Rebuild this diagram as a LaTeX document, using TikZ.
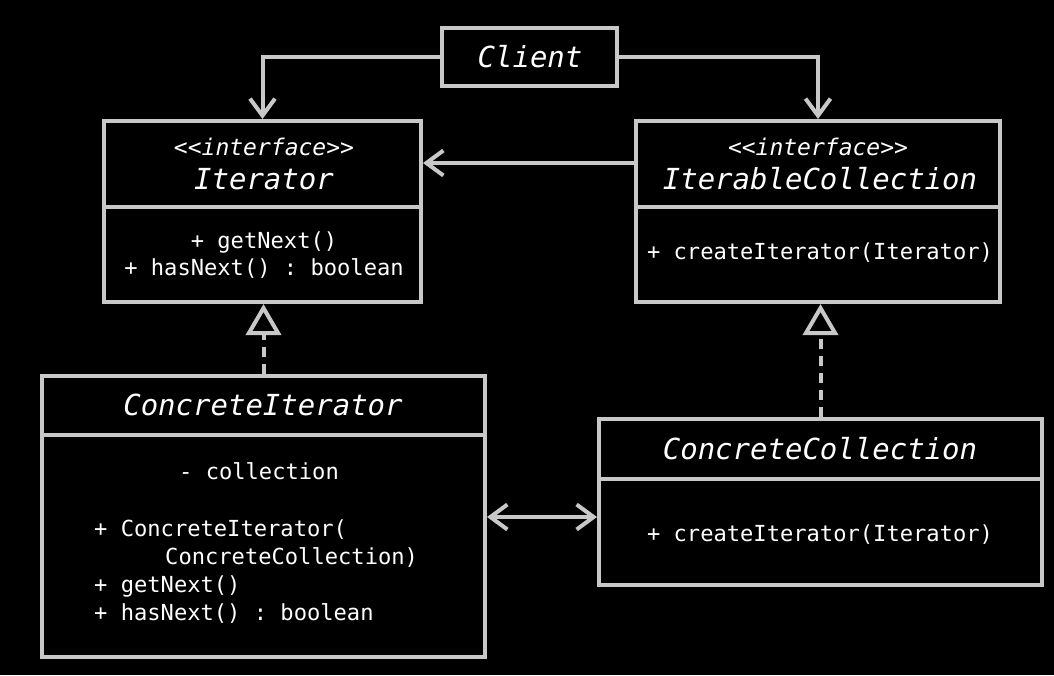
\documentclass[tikz,border=0pt]{standalone}
\usepackage{fontspec}
\setmonofont{DejaVu Sans Mono}
\usetikzlibrary{arrows.meta}
\definecolor{ln}{HTML}{C8C8C8}
\tikzset{barb/.tip={Straight Barb[length=17pt,width=25pt]}}
\begin{document}
\begin{tikzpicture}[x=1pt,y=-1pt,
  box/.style={draw=ln,line width=4pt,rectangle,inner sep=0pt,outer sep=2pt},
  divider/.style={draw=ln,line width=4pt},
  conn/.style={draw=ln,line width=4pt},
  realize/.style={conn,dash pattern=on 10pt off 7pt,-{Triangle[open,length=31pt,width=35pt]}},
  ttl/.style={text=white,font=\ttfamily\itshape\fontsize{29}{34}\selectfont,inner sep=0pt,anchor=base},
  ster/.style={text=white,font=\ttfamily\itshape\fontsize{23}{28}\selectfont,inner sep=0pt,anchor=base},
  mth/.style={text=white,font=\ttfamily\fontsize{22.1}{26}\selectfont,inner sep=0pt,anchor=base},
  mthl/.style={mth,anchor=base west}]
\useasboundingbox[fill=black] (0,0) rectangle (1054,675);

% boxes
\node[box,minimum width=175pt,minimum height=58pt] (cl) at (529.5,57) {};
\node[box,minimum width=317pt,minimum height=181pt] (it) at (262.5,211.5) {};
\node[box,minimum width=364pt,minimum height=181pt] (ic) at (818,211.5) {};
\node[box,minimum width=443pt,minimum height=281pt] (ci) at (263.5,516.5) {};
\node[box,minimum width=443pt,minimum height=166pt] (cc) at (820.5,502) {};

% dividers
\coordinate (d1) at (0,207);
\coordinate (d2) at (0,435);
\coordinate (d3) at (0,479);
\draw[divider] (it.west |- d1) -- (it.east |- d1);
\draw[divider] (ic.west |- d1) -- (ic.east |- d1);
\draw[divider] (ci.west |- d2) -- (ci.east |- d2);
\draw[divider] (cc.west |- d3) -- (cc.east |- d3);

% texts
\node[ttl] (tcl) at (530,67.5) {Client};
\node[ster] (sit) at (264,155) {<<interface>>};
\node[ttl] (tit) at (264,189.5) {Iterator};
\node[mth] (m1) at (264,248) {+ getNext()};
\node[mth] (m2) at (264,275) {+ hasNext() : boolean};
\node[ster] (sic) at (818,155) {<<interface>>};
\node[ttl] (tic) at (820,189.5) {IterableCollection};
\node[mth] (m3) at (820,259) {+ createIterator(Iterator)};
\node[ttl] (tci) at (263,415.5) {ConcreteIterator};
\node[mth] (m4) at (259,479) {- collection};
\node[mthl] (m5) at (94,536) {+ ConcreteIterator(};
\node[mthl] (m6) at (165,564) {ConcreteCollection)};
\node[mthl] (m7) at (94,592) {+ getNext()};
\node[mthl] (m8) at (94,620) {+ hasNext() : boolean};
\node[ttl] (tcc) at (820,459.5) {ConcreteCollection};
\node[mth] (m9) at (820,541) {+ createIterator(Iterator)};

% connectors
\draw[conn,-barb] (cl.west) -| (it.north);
\draw[conn,-barb] (cl.east) -| (ic.north);
\coordinate (a1) at (0,163);
\draw[conn,-barb] (ic.west |- a1) -- (it.east |- a1);
\draw[realize] (ci.north) -- (ci.north |- it.south);
\draw[realize] (cc.north) -- (cc.north |- ic.south);
\coordinate (a2) at (0,517);
\draw[conn,barb-barb] (ci.east |- a2) -- (cc.west |- a2);
\end{tikzpicture}
\end{document}
